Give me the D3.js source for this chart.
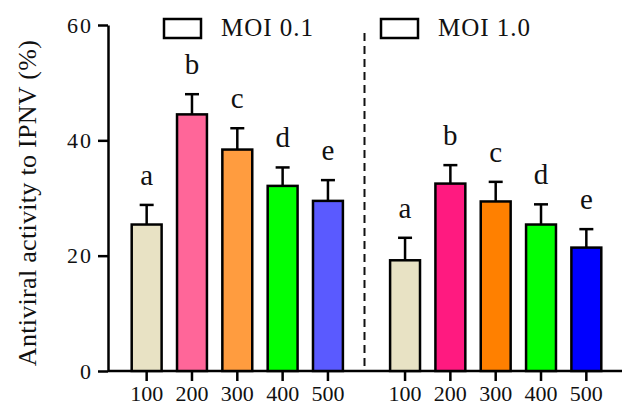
<!DOCTYPE html>
<html>
<head>
<meta charset="utf-8">
<script src="https://cdn.jsdelivr.net/npm/d3@7"></script>
<style>
  body { margin: 0; background: #fff; }
  text { font-family: "Liberation Serif", "Times New Roman", serif; fill: #111; }
</style>
</head>
<body>
<svg width="622" height="409"></svg>
<script>
// data
const groups = ['MOI 0.1', 'MOI 1.0']
const concentrations = ['100', '200', '300', '400', '500']
const letters = ['a', 'b', 'c', 'd', 'e']
const moi01Mean = [25.4, 44.5, 38.4, 32.1, 29.5]
const moi01Err = [3.4, 3.5, 3.7, 3.2, 3.6]
const moi10Mean = [19.2, 32.5, 29.4, 25.4, 21.4]
const moi10Err = [3.9, 3.2, 3.4, 3.5, 3.2]
const moi01Colors = ['#e8e2c4', '#ff6699', '#ff9c3f', '#00ff00', '#5a5aff']
const moi10Colors = ['#e8e2c4', '#ff1a80', '#ff8000', '#00ff00', '#0000ff']
const yTicks = [0, 20, 40, 60]

const svg = d3.select('svg')
const width = +svg.attr('width')

const y = d3.scaleLinear().domain([0, 60]).range([371, 25])
const x0 = d3.scaleBand().domain(groups).range([124, 609]).paddingInner(0.123)
const x1 = d3.scaleBand().domain(concentrations).range([0, x0.bandwidth()])
        .paddingInner(0.34).paddingOuter(0.17)

const table = groups.map((g, gi) => concentrations.map((c, i) => ({
    group: g,
    conc: c,
    mean: gi === 0 ? moi01Mean[i] : moi10Mean[i],
    err: gi === 0 ? moi01Err[i] : moi10Err[i],
    color: gi === 0 ? moi01Colors[i] : moi10Colors[i],
    letter: letters[i]
})))

const cx = d => x0(d.group) + x1(d.conc) + x1.bandwidth() / 2

// y axis
const yAxis = svg.append('g')
    .attr('transform', 'translate(108,0)')
    .call(d3.axisLeft(y).tickValues(yTicks).tickSize(10).tickSizeOuter(0).tickPadding(5))
yAxis.select('.domain').attr('stroke', '#000').attr('stroke-width', 2.5)
yAxis.selectAll('.tick line').attr('stroke', '#000').attr('stroke-width', 2.5)
yAxis.selectAll('.tick text').attr('font-size', 22)
    .style('font-family', '"Liberation Serif", serif').attr('fill', '#111')
    .attr('letter-spacing', 2)

// x baseline
svg.append('line')
    .attr('x1', 108).attr('x2', width)
    .attr('y1', y(0)).attr('y2', y(0))
    .attr('stroke', '#000').attr('stroke-width', 2.5)

// x axes per group
groups.forEach(g => {
    const ax = svg.append('g')
        .attr('transform', `translate(${x0(g)},${y(0)})`)
        .call(d3.axisBottom(x1).tickSize(10).tickSizeOuter(0).tickPadding(4))
    ax.select('.domain').remove()
    ax.selectAll('.tick line').attr('stroke', '#000').attr('stroke-width', 2.5)
    ax.selectAll('.tick text').attr('font-size', 22)
        .style('font-family', '"Liberation Serif", serif').attr('fill', '#111')
})

// divider
const divX = (x0(groups[0]) + x1('500') + x1.bandwidth() + x0(groups[1]) + x1('100')) / 2 - 2
svg.append('line')
    .attr('x1', divX).attr('x2', divX)
    .attr('y1', 33).attr('y2', y(0))
    .attr('stroke', '#111').attr('stroke-width', 2)
    .attr('stroke-dasharray', '8,5')

const data = table.flat()

// error bars
const eb = svg.append('g').selectAll('g').data(data).enter().append('g')
eb.append('line')
    .attr('x1', cx).attr('x2', cx)
    .attr('y1', d => y(d.mean)).attr('y2', d => y(d.mean + d.err))
    .attr('stroke', '#000').attr('stroke-width', 2.5)
eb.append('line')
    .attr('x1', d => cx(d) - 7).attr('x2', d => cx(d) + 7)
    .attr('y1', d => y(d.mean + d.err)).attr('y2', d => y(d.mean + d.err))
    .attr('stroke', '#000').attr('stroke-width', 2.5)

// bars
svg.append('g').selectAll('rect').data(data).enter().append('rect')
    .attr('x', d => x0(d.group) + x1(d.conc))
    .attr('y', d => y(d.mean))
    .attr('width', x1.bandwidth())
    .attr('height', d => y(0) - y(d.mean))
    .attr('fill', d => d.color)
    .attr('stroke', '#000').attr('stroke-width', 2.5)

// significance letters
svg.append('g').selectAll('text').data(data).enter().append('text')
    .attr('x', cx)
    .attr('y', d => y(d.mean + d.err) - 20)
    .attr('text-anchor', 'middle')
    .attr('font-size', 29)
    .text(d => d.letter)

// legend
const legendX = [164, 381]
groups.forEach((g, i) => {
    svg.append('rect')
        .attr('x', legendX[i]).attr('y', 19)
        .attr('width', 37).attr('height', 19)
        .attr('fill', '#fff').attr('stroke', '#000').attr('stroke-width', 2.5)
    svg.append('text')
        .attr('x', legendX[i] + 57).attr('y', 36)
        .attr('font-size', 25)
        .attr('letter-spacing', 1)
        .text(g)
})

// y title
svg.append('text')
    .attr('transform', 'translate(36,203) rotate(-90)')
    .attr('text-anchor', 'middle')
    .attr('font-size', 26)
    .attr('letter-spacing', 0.3)
    .text('Antiviral activity to IPNV (%)')
</script>
</body>
</html>
